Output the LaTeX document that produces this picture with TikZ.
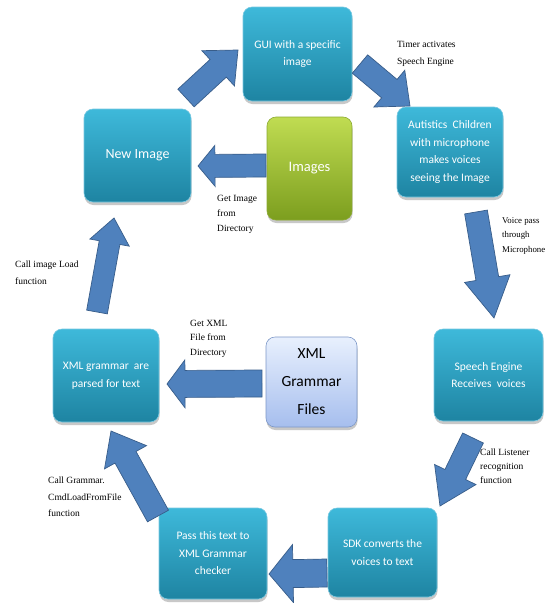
\documentclass[tikz,border=0pt]{standalone}
\usepackage{fontspec}
\setmainfont{Liberation Serif}
\newfontfamily\boxfont{Carlito}
\usetikzlibrary{calc,shadows}
\definecolor{boxtop}{RGB}{62,185,218}
\definecolor{boxbot}{RGB}{30,132,162}
\definecolor{boxedge}{RGB}{120,200,225}
\definecolor{greentop}{RGB}{192,220,82}
\definecolor{greenbot}{RGB}{124,158,30}
\definecolor{greenedge}{RGB}{140,170,50}
\definecolor{filetop}{RGB}{232,240,253}
\definecolor{filebot}{RGB}{166,190,238}
\definecolor{fileedge}{RGB}{125,152,200}
\definecolor{arrowfill}{RGB}{79,129,189}
\definecolor{arrowline}{RGB}{56,93,138}
\newcommand\myBlockArrow[5]{%
  \coordinate (ahb) at ($(#2)!#5!(#1)$);
  \draw[barrow] ($(#1)!#3!90:(#2)$) -- ($(ahb)!#3!90:(#2)$) -- ($(ahb)!#4!90:(#2)$) -- (#2)
    -- ($(ahb)!#4!-90:(#2)$) -- ($(ahb)!#3!-90:(#2)$) -- ($(#1)!#3!-90:(#2)$) -- cycle;
}
\begin{document}
\begin{tikzpicture}[x=1pt,y=-1pt,
  pbox/.style={rounded corners=9pt, top color=boxtop, bottom color=boxbot, draw=boxedge, line width=0.6pt,
    text=white, font=\boxfont\fontsize{11.5}{17.5}\selectfont, align=center, inner sep=0pt,
    drop shadow={shadow xshift=0.5pt, shadow yshift=-3pt, opacity=0.3, fill=black!70}},
  lbl/.style={font=\fontsize{9.5}{#1}\selectfont, align=left, anchor=north west, inner sep=0pt},
  barrow/.style={fill=arrowfill, draw=arrowline, line width=0.7pt, line join=miter}
]
\useasboundingbox[fill=white] (0,0) rectangle (547,603);

% boxes
\node[pbox, minimum width=109pt, minimum height=94pt] (gui) at (297.5,54) {GUI with a specific\\image};
\node[pbox, minimum width=106pt, minimum height=90pt] (aut) at (450,152) {Autistics\ \ Children\\with microphone\\makes voices\\seeing the Image};
\node[pbox, minimum width=107pt, minimum height=93pt, font=\boxfont\fontsize{14}{17}\selectfont] (newimg) at (137.5,155.5) {New Image};
\node[pbox, minimum width=85pt, minimum height=103pt, top color=greentop, bottom color=greenbot, draw=greenedge,
  font=\boxfont\fontsize{14.5}{17}\selectfont] (images) at (309.5,168.5) {Images};
\node[pbox, minimum width=109pt, minimum height=92pt] (speech) at (488.5,375) {Speech Engine\\Receives\ \ voices};
\node[pbox, minimum width=106pt, minimum height=93pt] (xmlg) at (106,375.5) {XML grammar\ \ are\\parsed for text};
\node[pbox, minimum width=91pt, minimum height=90pt, top color=filetop, bottom color=filebot, draw=fileedge,
  text=black, font=\boxfont\fontsize{15.5}{28}\selectfont] (files) at (311.5,382) {XML\\Grammar\\Files};
\node[pbox, minimum width=108pt, minimum height=91pt] (pass) at (213,553.5) {Pass this text to\\XML Grammar\\checker};
\node[pbox, minimum width=109pt, minimum height=89pt] (sdk) at (382.5,552.5) {SDK converts the\\voices to text};

% arrow end points
\coordinate (a1t) at (186,98);   \coordinate (a1h) at (238,50);
\coordinate (a2t) at (360,64);   \coordinate (a2h) at (410,106);
\coordinate (a3t) at (476,212);  \coordinate (a3h) at (494,318);
\coordinate (a4t) at (473,438);  \coordinate (a4h) at (440,506);
\coordinate (a5t) at (327,573);  \coordinate (a5h) at (269,574);
\coordinate (a6t) at (158,516);  \coordinate (a6h) at (111,431);
\coordinate (a7t) at (262,383.5);\coordinate (a7h) at (167,384);
\coordinate (a8t) at (266,165.5);\coordinate (a8h) at (198,166);
\coordinate (a9t) at (97,312);   \coordinate (a9h) at (114,218);

\myBlockArrow{a1t}{a1h}{12pt}{24pt}{27pt}
\myBlockArrow{a2t}{a2h}{12pt}{24pt}{27pt}
\myBlockArrow{a3t}{a3h}{11.5pt}{23pt}{40pt}
\myBlockArrow{a4t}{a4h}{11.5pt}{23pt}{35pt}
\myBlockArrow{a5t}{a5h}{14pt}{29pt}{24pt}
\myBlockArrow{a6t}{a6h}{12pt}{24pt}{30pt}
\myBlockArrow{a7t}{a7h}{13.5pt}{24pt}{18pt}
\myBlockArrow{a8t}{a8h}{11.5pt}{20.5pt}{17pt}
\myBlockArrow{a9t}{a9h}{10.5pt}{20pt}{25pt}

% labels
\node[lbl=17] (l1) at (397,41) {Timer activates\\Speech Engine};
\node[lbl=15] (l2) at (217,195) {Get Image\\from\\Directory};
\node[lbl=14.5, font=\fontsize{8.8}{14.5}\selectfont] (l3) at (502,217) {Voice pass\\through\\Microphone};
\node[lbl=17] (l4) at (15,261) {Call image Load\\function};
\node[lbl=14.5] (l5) at (190,320) {Get XML\\File from\\Directory};
\node[lbl=14] (l6) at (480,449) {Call Listener\\recognition\\function};
\node[lbl=16.5] (l7) at (48,477) {Call Grammar.\\CmdLoadFromFile\\function};
\end{tikzpicture}
\end{document}
